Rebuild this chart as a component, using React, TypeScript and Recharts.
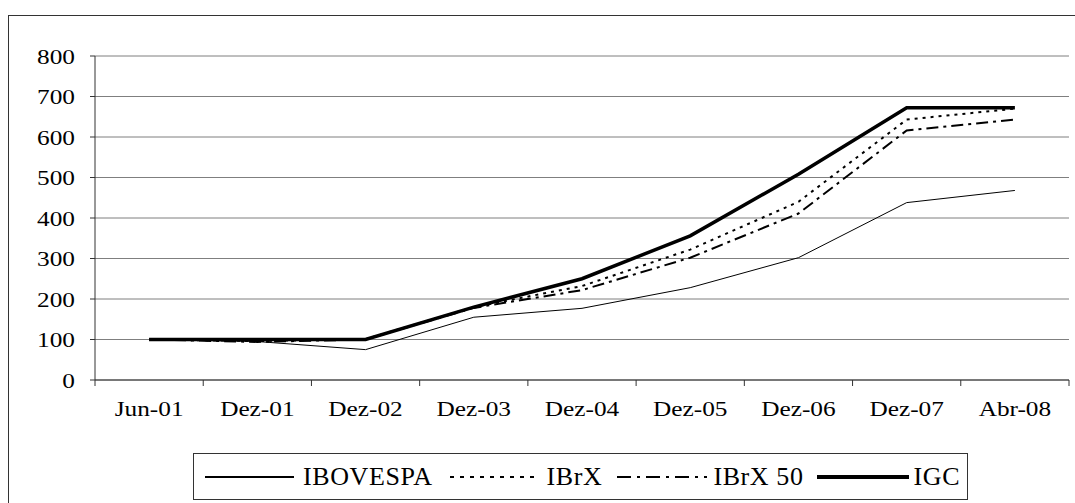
import React from "react";
import { LineChart, Line, XAxis, YAxis, CartesianGrid, Legend } from "recharts";

const periods = ["Jun-01", "Dez-01", "Dez-02", "Dez-03", "Dez-04", "Dez-05", "Dez-06", "Dez-07", "Abr-08"];
const ibovespa = [100, 95, 75, 155, 177, 228, 302, 438, 468];
const ibrx = [100, 96, 101, 180, 232, 322, 440, 643, 670];
const ibrx50 = [100, 94, 100, 178, 222, 302, 411, 616, 643];
const igc = [100, 100, 100, 180, 250, 356, 508, 672, 672];
const yTicks = [0, 100, 200, 300, 400, 500, 600, 700, 800];

const data = periods.map((p, i) => ({
  name: p,
  IBOVESPA: ibovespa[i],
  IBrX: ibrx[i],
  "IBrX 50": ibrx50[i],
  IGC: igc[i],
}));

const FONT = "Liberation Serif, Times New Roman, serif";

// estilos das linhas (gráfico e legenda)
const seriesStyle: Record<string, { width: number; dash?: string; legendWidth: number; legendDash?: string }> = {
  IBOVESPA: { width: 1, legendWidth: 2 },
  IBrX: { width: 2, dash: "3 5", legendWidth: 2, legendDash: "4 6" },
  "IBrX 50": { width: 2, dash: "12 5 3 5", legendWidth: 2, legendDash: "14 6 3 6" },
  IGC: { width: 3.5, legendWidth: 4 },
};

// espaçamento dos itens da legenda (linha, margem antes do texto, margem depois)
const legendLayout: Record<string, { line: number; gap: number; after: number }> = {
  IBOVESPA: { line: 89, gap: 9, after: 17 },
  IBrX: { line: 87, gap: 10, after: 15 },
  "IBrX 50": { line: 90, gap: 6, after: 13 },
  IGC: { line: 92, gap: 5, after: 0 },
};

const XTick = (props: any) => {
  const { x, y, payload, index } = props;
  const off = payload && payload.offset ? payload.offset : 54;
  return (
    <g>
      <line x1={x - off} y1={y} x2={x - off} y2={y + 6} stroke="#333" />
      {index === periods.length - 1 && <line x1={x + off} y1={y} x2={x + off} y2={y + 6} stroke="#333" />}
      <text
        transform={`translate(${x},${y + 36}) scale(1.15,1)`}
        textAnchor="middle"
        style={{ fontFamily: FONT }}
        fontSize={22}
        fill="#000"
      >
        {payload.value}
      </text>
    </g>
  );
};

const YTick = (props: any) => {
  const { x, y, payload } = props;
  return (
    <text
      transform={`translate(${x},${y}) scale(1.15,1)`}
      textAnchor="end"
      dy="0.35em"
      style={{ fontFamily: FONT }}
      fontSize={22}
      fill="#000"
    >
      {payload.value}
    </text>
  );
};

const LegendBox = () => {
  const names = ["IBOVESPA", "IBrX", "IBrX 50", "IGC"];
  return (
    <div
      style={{
        width: 775,
        height: 47,
        boxSizing: "border-box",
        border: "1px solid #333",
        display: "flex",
        alignItems: "center",
        paddingLeft: 11,
        fontFamily: FONT,
        fontSize: 26,
        color: "#000",
        background: "#fff",
      }}
    >
      {names.map((n) => {
        const s = seriesStyle[n];
        const l = legendLayout[n];
        return (
          <div key={n} style={{ display: "flex", alignItems: "center", marginRight: l.after }}>
            <svg width={l.line} height={10}>
              <line x1={0} y1={5} x2={l.line} y2={5} stroke="#000" strokeWidth={s.legendWidth} strokeDasharray={s.legendDash} />
            </svg>
            <span style={{ marginLeft: l.gap, letterSpacing: 0.6, whiteSpace: "nowrap" }}>{n}</span>
          </div>
        );
      })}
    </div>
  );
};

export default function App() {
  return (
    <div style={{ position: "absolute", left: 0, top: 0, width: 1075, height: 503, overflow: "hidden", background: "#fff" }}>
      <div
        style={{
          position: "absolute",
          left: 8,
          top: 15,
          width: 1100,
          height: 600,
          border: "1px solid #333",
        }}
      />
      <div style={{ position: "absolute", left: 0, top: 0 }}>
        <LineChart width={1075} height={503} data={data} margin={{ top: 56, right: 6, left: 25, bottom: 3 }}>
          <CartesianGrid vertical={false} stroke="#7f7f7f" strokeWidth={1} />
          <XAxis
            dataKey="name"
            scale="band"
            stroke="#333"
            tickLine={false}
            tickSize={0}
            tickMargin={0}
            height={73}
            interval={0}
            tick={<XTick />}
          />
          <YAxis
            domain={[0, 800]}
            ticks={yTicks}
            width={70}
            stroke="#333"
            tickSize={5}
            tickMargin={15}
            tick={<YTick />}
          />
          <YAxis yAxisId="r" orientation="right" width={0} domain={[0, 800]} tick={false} tickLine={false} stroke="#7f7f7f" />
          <Legend
            verticalAlign="bottom"
            height={50}
            content={() => <LegendBox />}
            wrapperStyle={{ left: 193, bottom: 3, width: 775, height: 47 }}
          />
          {Object.keys(seriesStyle).map((k) => (
            <Line
              key={k}
              type="linear"
              dataKey={k}
              stroke="#000"
              strokeWidth={seriesStyle[k].width}
              strokeDasharray={seriesStyle[k].dash}
              dot={false}
              activeDot={false}
              isAnimationActive={false}
            />
          ))}
        </LineChart>
      </div>
    </div>
  );
}
